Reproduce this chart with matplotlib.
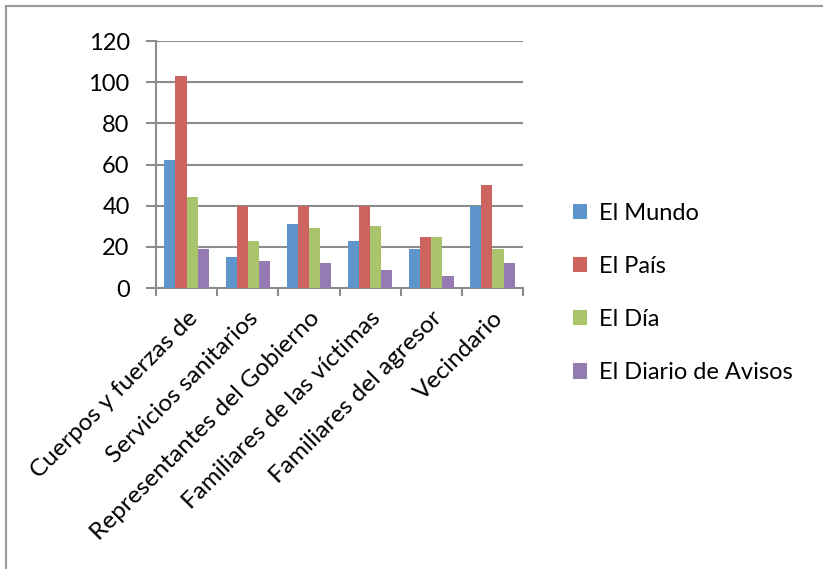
import matplotlib.pyplot as plt
from matplotlib.lines import Line2D
import numpy as np

plt.rcParams['font.family'] = ['Lato', 'DejaVu Sans']

categories = ["Cuerpos y fuerzas de", "Servicios sanitarios", "Representantes del Gobierno",
              "Familiares de las víctimas", "Familiares del agresor", "Vecindario"]
series_names = ["El Mundo", "El País", "El Día", "El Diario de Avisos"]
el_mundo = [62, 15, 31, 23, 19, 40]
el_pais = [103, 40, 40, 40, 25, 50]
el_dia = [44, 23, 29, 30, 25, 19]
el_diario = [19, 13, 12, 9, 6, 12]
colors = ['#5E95CB', '#CD645F', '#A9C46B', '#957BB1']

fig = plt.figure(figsize=(8.23, 5.69), dpi=100)
ax = fig.add_axes([0.1896, 0.4938, 0.4459, 0.4341])

x = np.arange(len(categories))
bw = 0.182
for i, (vals, name) in enumerate(zip([el_mundo, el_pais, el_dia, el_diario], series_names)):
    ax.bar(x + (i - 1.5) * bw, vals, width=bw, color=colors[i], label=name, zorder=3)

grid_c = '#8C8C8C'
ax.set_xlim(-0.5, len(categories) - 0.5)
ax.set_ylim(0, 120)
ax.set_yticks(range(0, 121, 20))
ax.yaxis.grid(True, color=grid_c, linewidth=1.5, zorder=0)
for s in ['top', 'right']:
    ax.spines[s].set_visible(False)
for s in ['left', 'bottom']:
    ax.spines[s].set_color(grid_c)
    ax.spines[s].set_linewidth(1.5)

# ticks at category boundaries, labels at centers
ax.set_xticks(np.arange(-0.5, len(categories), 1.0))
ax.set_xticklabels([])
ax.set_xticks(x, minor=True)
ax.set_xticklabels(categories, minor=True, rotation=45, ha='right', va='top',
                   rotation_mode='anchor', fontsize=17.6)
ax.tick_params(axis='x', which='major', length=6, width=1.5, color=grid_c)
ax.tick_params(axis='x', which='minor', length=0, pad=14)
ax.tick_params(axis='y', length=7, width=1.5, color=grid_c, labelsize=17, pad=12)

fig.legend(loc='center left', bbox_to_anchor=(0.67, 0.485), frameon=False, fontsize=17,
           handlelength=0.62, handleheight=0.62, handletextpad=0.5, labelspacing=1.36)

fig.add_artist(Line2D([0.007, 0.007], [0, 0.99], color='#999999', linewidth=1.5))
fig.add_artist(Line2D([0.007, 1], [0.99, 0.99], color='#999999', linewidth=1.5))

fig.savefig('out.png', dpi=100)
